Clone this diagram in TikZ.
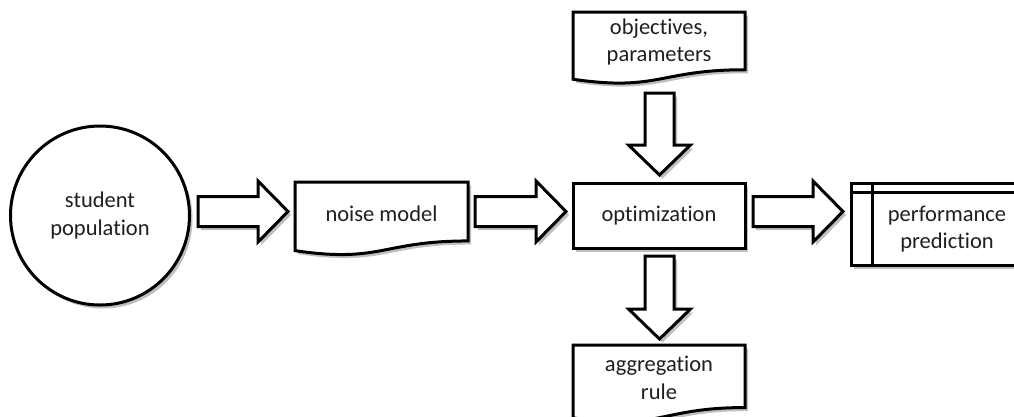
\documentclass[tikz,border=0pt]{standalone}
\usepackage{fontspec}
\setmainfont{Carlito}[Ligatures={NoCommon,NoRequired,NoContextual}]
\usetikzlibrary{calc,shadows}
\tikzset{
  shapeline/.style={draw=black, line width=3pt, fill=white, line join=miter,
    drop shadow={shadow xshift=3pt, shadow yshift=-3.5pt, fill=black, opacity=0.25}},
  blockarr/.style={shapeline},
  docline/.style={shapeline},
  docbox/.style={inner sep=0pt, outer sep=0pt},
  txt/.style={align=center, text=black!88, font=\fontsize{22.5}{27.5}\selectfont, inner sep=0pt},
  plainbox/.style={shapeline, rectangle, inner sep=0pt, outer sep=0pt},
}
\newcommand\harrow[2]{%
  \draw[blockarr] let \p1=(#1), \p2=(#2) in
  (\x1,\y1+15pt) -- (\x2-30pt,\y1+15pt) -- (\x2-30pt,\y1+30.5pt) -- (\x2,\y1)
  -- (\x2-30pt,\y1-30.5pt) -- (\x2-30pt,\y1-15pt) -- (\x1,\y1-15pt) -- cycle;}
\newcommand\varrow[2]{%
  \draw[blockarr] let \p1=(#1), \p2=(#2) in
  (\x1-14.5pt,\y1) -- (\x1-14.5pt,\y2+30pt) -- (\x1-31pt,\y2+30pt) -- (\x1,\y2)
  -- (\x1+31pt,\y2+30pt) -- (\x1+14.5pt,\y2+30pt) -- (\x1+14.5pt,\y1) -- cycle;}
\newcommand\docshape[1]{%
  \draw[docline] (#1.north west) -- (#1.north east) -- ($(#1.north east)!0.802!(#1.south east)$)
  .. controls ($(#1.north)!0.802!(#1.south)$) and ($(#1.north)!1.107!(#1.south)$) ..
  ($(#1.north west)!0.934!(#1.south west)$) -- cycle;}
\begin{document}
\begin{tikzpicture}[x=1pt,y=-1pt]
\useasboundingbox (0,0) rectangle (1014,416);
\clip (0,0) rectangle (1014,416);
% nodes
\node[shapeline, circle, minimum size=179pt, inner sep=0pt] (sp) at (100,215.5) {};
\node[txt] (spt) at (sp.center) {student\\population};

\node[docbox, minimum width=173pt, minimum height=73.5pt] (nm) at (381.5,218.75) {};
\docshape{nm}
\node[txt] (nmt) at ($(nm.north)!0.43!(nm.south)$) {noise model};

\node[plainbox, minimum width=172pt, minimum height=65pt] (opt) at (659,215.5) {};
\node[txt] (optt) at (opt.center) {optimization};

\node[docbox, minimum width=172pt, minimum height=72pt] (ob) at (659,48) {};
\docshape{ob}
\node[txt] (obt) at ($(ob.north)!0.42!(ob.south)$) {objectives,\\parameters};

\node[docbox, minimum width=172pt, minimum height=78pt] (ag) at (659,384) {};
\docshape{ag}
\node[txt] (agt) at ($(ag.north)!0.42!(ag.south)$) {aggregation\\rule};

\node[plainbox, minimum width=171pt, minimum height=82pt] (pp) at (936.5,224) {};
\draw[line width=3pt] ($(pp.north west)+(0,9.5)$) -- ($(pp.north east)+(0,9.5)$);
\draw[line width=3pt] ($(pp.north west)+(21,0)$) -- ($(pp.south west)+(21,0)$);
\node[txt] (ppt) at ($(pp.center)+(10.5,5)$) {performance\\prediction};

% block arrow connectors
\coordinate (a1s) at ($(sp.east)+(7,-4)$);
\coordinate (a1e) at ($(a1s -| nm.west)+(-7,0)$);
\harrow{a1s}{a1e}
\coordinate (a2s) at ($(a1s -| nm.east)+(7,0)$);
\coordinate (a2e) at ($(a1s -| opt.west)+(-7,0)$);
\harrow{a2s}{a2e}
\coordinate (a3s) at ($(a1s -| opt.east)+(8,0)$);
\coordinate (a3e) at ($(a1s -| pp.west)+(-8,0)$);
\harrow{a3s}{a3e}
\coordinate (d1s) at ($(ob.south)+(0.5,9)$);
\coordinate (d1e) at ($(d1s |- opt.north)+(0,-8)$);
\varrow{d1s}{d1e}
\coordinate (d2s) at ($(opt.south)+(0.5,8)$);
\coordinate (d2e) at ($(d2s |- ag.north)+(0,-6)$);
\varrow{d2s}{d2e}
\end{tikzpicture}
\end{document}
